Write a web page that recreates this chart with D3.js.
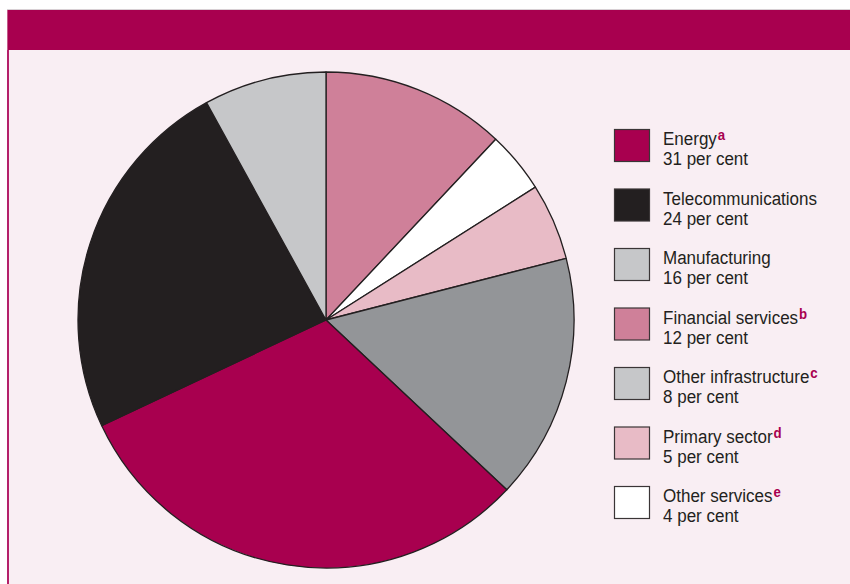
<!DOCTYPE html>
<html>
<head>
<meta charset="utf-8">
<script src="https://cdn.jsdelivr.net/npm/d3@7/dist/d3.min.js"></script>
<style>
  html, body { margin: 0; padding: 0; background: #ffffff; }
  svg { display: block; }
  text { font-family: "Liberation Sans", Arial, sans-serif; }
</style>
</head>
<body>
<svg id="chart" width="850" height="584"></svg>
<script>
// Sectors, in the order the slices run clockwise from twelve o'clock
const pieSectors = ["Financial services", "Other services", "Primary sector", "Manufacturing",
                    "Energy", "Telecommunications", "Other infrastructure"];
const pieShares  = [12, 4, 5, 16, 31, 24, 8];
const pieColors  = ["#cf8099", "#ffffff", "#e8bbc6", "#939598", "#a8004f", "#231f20", "#c6c7c9"];

// Legend entries, top to bottom
const legendSectors = ["Energy", "Telecommunications", "Manufacturing", "Financial services",
                       "Other infrastructure", "Primary sector", "Other services"];
const legendShares  = [31, 24, 16, 12, 8, 5, 4];
const legendNotes   = ["a", "", "", "b", "c", "d", "e"];
const legendColors  = ["#a8004f", "#231f20", "#c6c7c9", "#cf8099", "#c6c7c9", "#e8bbc6", "#ffffff"];

const svg = d3.select("#chart");
const W = 850, H = 584;

// Panel: light background, header band, left rule
svg.append("rect").attr("x", 8).attr("y", 50).attr("width", W - 8).attr("height", H - 50)
  .attr("fill", "#f9eef3");
svg.append("line").attr("x1", 7).attr("x2", W).attr("y1", 9.5).attr("y2", 9.5)
  .attr("stroke", "#d8d0d4").attr("stroke-width", 1);
svg.append("rect").attr("x", 7).attr("y", 10).attr("width", W - 7).attr("height", 40)
  .attr("fill", "#a8004f");
svg.append("rect").attr("x", 7).attr("y", 10).attr("width", 1).attr("height", 40)
  .attr("fill", "#c45a8a");
svg.append("rect").attr("x", 7).attr("y", 50).attr("width", 2).attr("height", H - 50)
  .attr("fill", "#b4206a");

// Pie
const cx = 326, cy = 320, radius = 248;
const pie = d3.pie().sort(null).value(d => d.value);
const arc = d3.arc().innerRadius(0).outerRadius(radius);
const pieData = pieSectors.map((s, i) => ({ name: s, value: pieShares[i], color: pieColors[i] }));

svg.append("g").attr("transform", `translate(${cx},${cy})`)
  .selectAll("path").data(pie(pieData)).join("path")
  .attr("d", arc)
  .attr("fill", d => d.data.color)
  .attr("stroke", "#231f20")
  .attr("stroke-width", 1.3)
  .attr("stroke-linejoin", "round");

// Legend
const legendY = d3.scalePoint().domain(legendSectors).range([129, 486]);
const legend = svg.append("g");
const items = legend.selectAll("g").data(legendSectors).join("g")
  .attr("transform", d => `translate(614,${legendY(d)})`);

items.append("rect")
  .attr("x", 0.5).attr("y", 0.5).attr("width", 35).attr("height", 32)
  .attr("fill", (d, i) => legendColors[i])
  .attr("stroke", "#3a3536").attr("stroke-width", 1.2);

const labels = items.append("g").attr("transform", "translate(49,0) scale(0.945,1)");
const line1 = labels.append("text")
  .attr("x", 0).attr("y", 16)
  .attr("font-size", 18).attr("fill", "#231f20");
line1.append("tspan").text(d => d);
line1.append("tspan")
  .attr("dx", 1).attr("dy", -5)
  .attr("font-size", 14).attr("font-weight", "bold").attr("fill", "#a8004f")
  .text((d, i) => legendNotes[i]);

labels.append("text")
  .attr("x", 0).attr("y", 36.5)
  .attr("font-size", 18).attr("fill", "#231f20")
  .text((d, i) => `${legendShares[i]} per cent`);
</script>
</body>
</html>
